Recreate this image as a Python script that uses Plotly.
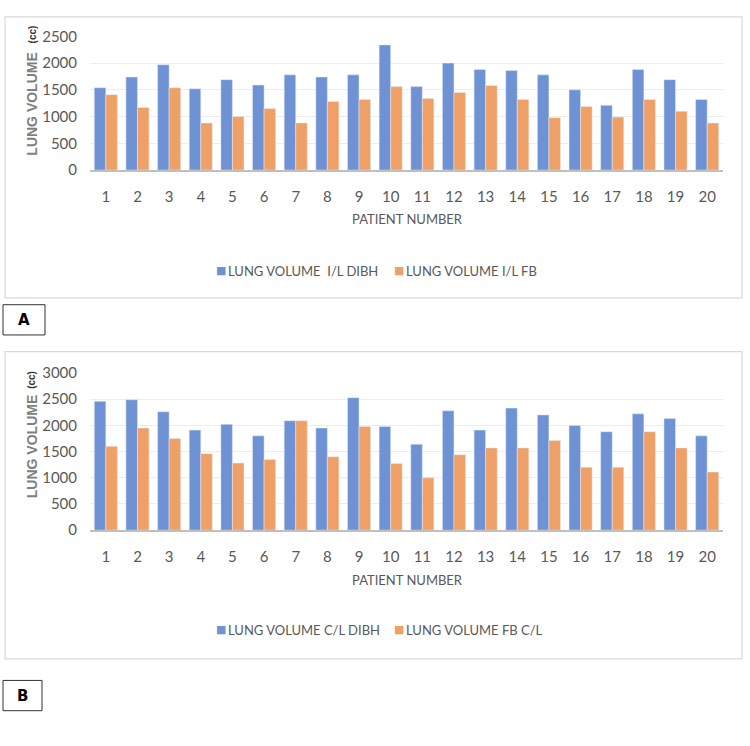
import plotly.graph_objects as go

patients = [str(i) for i in range(1, 21)]

il_dibh = [1540, 1740, 1970, 1520, 1690, 1590, 1780, 1740, 1780, 2340,
           1560, 2000, 1880, 1860, 1780, 1500, 1210, 1880, 1690, 1320]
il_fb = [1410, 1170, 1540, 880, 1000, 1150, 880, 1280, 1320, 1560,
         1340, 1450, 1580, 1320, 980, 1190, 990, 1320, 1100, 880]

cl_dibh = [2460, 2490, 2260, 1910, 2020, 1800, 2090, 1950, 2530, 1980,
           1640, 2280, 1910, 2330, 2200, 2000, 1880, 2220, 2130, 1800]
cl_fb = [1600, 1950, 1750, 1460, 1280, 1350, 2090, 1400, 1980, 1270,
         1000, 1440, 1570, 1570, 1710, 1200, 1200, 1880, 1570, 1110]

names_a = ["LUNG VOLUME&nbsp; I/L DIBH", "LUNG VOLUME I/L FB"]
names_b = ["LUNG VOLUME C/L DIBH", "LUNG VOLUME FB C/L"]

W, H = 750, 746
BLUE = "#6F92D5"
ORANGE = "#EFA066"
GREY = "#595959"
FONT = "Lato, sans-serif"


def px(x):
    return x / W


def py(y):
    return 1 - y / H


fig = go.Figure()
fig.add_trace(go.Bar(x=patients, y=il_dibh, name=names_a[0], marker_color=BLUE,
                     xaxis="x", yaxis="y"))
fig.add_trace(go.Bar(x=patients, y=il_fb, name=names_a[1], marker_color=ORANGE,
                     xaxis="x", yaxis="y"))
fig.add_trace(go.Bar(x=patients, y=cl_dibh, name=names_b[0], marker_color=BLUE,
                     xaxis="x2", yaxis="y2"))
fig.add_trace(go.Bar(x=patients, y=cl_fb, name=names_b[1], marker_color=ORANGE,
                     xaxis="x2", yaxis="y2"))

xcommon = dict(showgrid=False, showline=True, linecolor="#BFBFBF", linewidth=1.5,
               tickfont=dict(family=FONT, size=15, color=GREY), ticks="",
               ticklabelstandoff=12, fixedrange=True)
ycommon = dict(showgrid=True, gridcolor="#EDEDED", gridwidth=1, zeroline=False,
               showline=False, tickfont=dict(family=FONT, size=15, color=GREY),
               ticklabelstandoff=12, fixedrange=True)

fig.update_layout(
    width=W, height=H,
    margin=dict(l=0, r=0, t=0, b=0),
    paper_bgcolor="white", plot_bgcolor="white",
    barmode="group", bargap=0.27, bargroupgap=0.0,
    showlegend=False,
    xaxis=dict(domain=[px(90), px(723)], anchor="y", **xcommon),
    yaxis=dict(domain=[py(164), py(27)], anchor="x", range=[0, 2500], dtick=500, **ycommon),
    xaxis2=dict(domain=[px(90), px(723)], anchor="y2", **xcommon),
    yaxis2=dict(domain=[py(533), py(372)], anchor="x2", range=[0, 3000], dtick=500, **ycommon),
)

shapes = [
    dict(type="rect", xref="paper", yref="paper", x0=px(5), x1=px(742), y0=py(295), y1=py(7),
         line=dict(color="#D9D9D9", width=1.2)),
    dict(type="rect", xref="paper", yref="paper", x0=px(5), x1=px(742), y0=py(665), y1=py(350),
         line=dict(color="#D9D9D9", width=1.2)),
    dict(type="rect", xref="paper", yref="paper", x0=px(3), x1=px(45), y0=py(333), y1=py(302),
         line=dict(color="#333333", width=1)),
    dict(type="rect", xref="paper", yref="paper", x0=px(3), x1=px(42), y0=py(718), y1=py(687),
         line=dict(color="#333333", width=1)),
]
fig.update_layout(shapes=shapes)

ann = []
for (yc_lv, yc_cc) in [(97, 25), (448, 379)]:
    ann.append(dict(text="<b>LUNG VOLUME</b>", x=px(32), y=py(yc_lv), xref="paper", yref="paper",
                    textangle=-90, showarrow=False, xanchor="center", yanchor="middle",
                    font=dict(family="Liberation Sans, sans-serif", size=14, color="#7F7F7F")))
    ann.append(dict(text="<b>(cc)</b>", x=px(32), y=py(yc_cc), xref="paper", yref="paper",
                    textangle=-90, showarrow=False, xanchor="center", yanchor="middle",
                    font=dict(family="Liberation Sans, sans-serif", size=10, color="#333333")))

# x-axis titles
for ty in [214, 584]:
    ann.append(dict(text="PATIENT NUMBER", x=px(407), y=py(ty), xref="paper", yref="paper",
                    showarrow=False, xanchor="center", yanchor="middle",
                    font=dict(family=FONT, size=13, color=GREY)))

# legends (swatch + label), centred under each chart
for names, ly in [(names_a, 267), (names_b, 635)]:
    for i, (nm, col) in enumerate(zip(names, [BLUE, ORANGE])):
        x_sw = 221 if i == 0 else 399
        ann.append(dict(text="■", x=px(x_sw), y=py(ly), xref="paper", yref="paper",
                        showarrow=False, xanchor="center", yanchor="middle",
                        font=dict(family="DejaVu Sans", size=11, color=col)))
        ann.append(dict(text=nm, x=px(x_sw + 5), y=py(ly), xref="paper", yref="paper",
                        showarrow=False, xanchor="left", yanchor="middle",
                        font=dict(family=FONT, size=13, color=GREY)))

ann.append(dict(text="<b>A</b>", x=px(24), y=py(317.5), xref="paper", yref="paper", showarrow=False,
                xanchor="center", yanchor="middle",
                font=dict(family="DejaVu Sans, sans-serif", size=15, color="black")))
ann.append(dict(text="<b>B</b>", x=px(22.5), y=py(702.5), xref="paper", yref="paper", showarrow=False,
                xanchor="center", yanchor="middle",
                font=dict(family="DejaVu Sans, sans-serif", size=15, color="black")))
fig.update_layout(annotations=ann)

fig.write_html("out.html")
